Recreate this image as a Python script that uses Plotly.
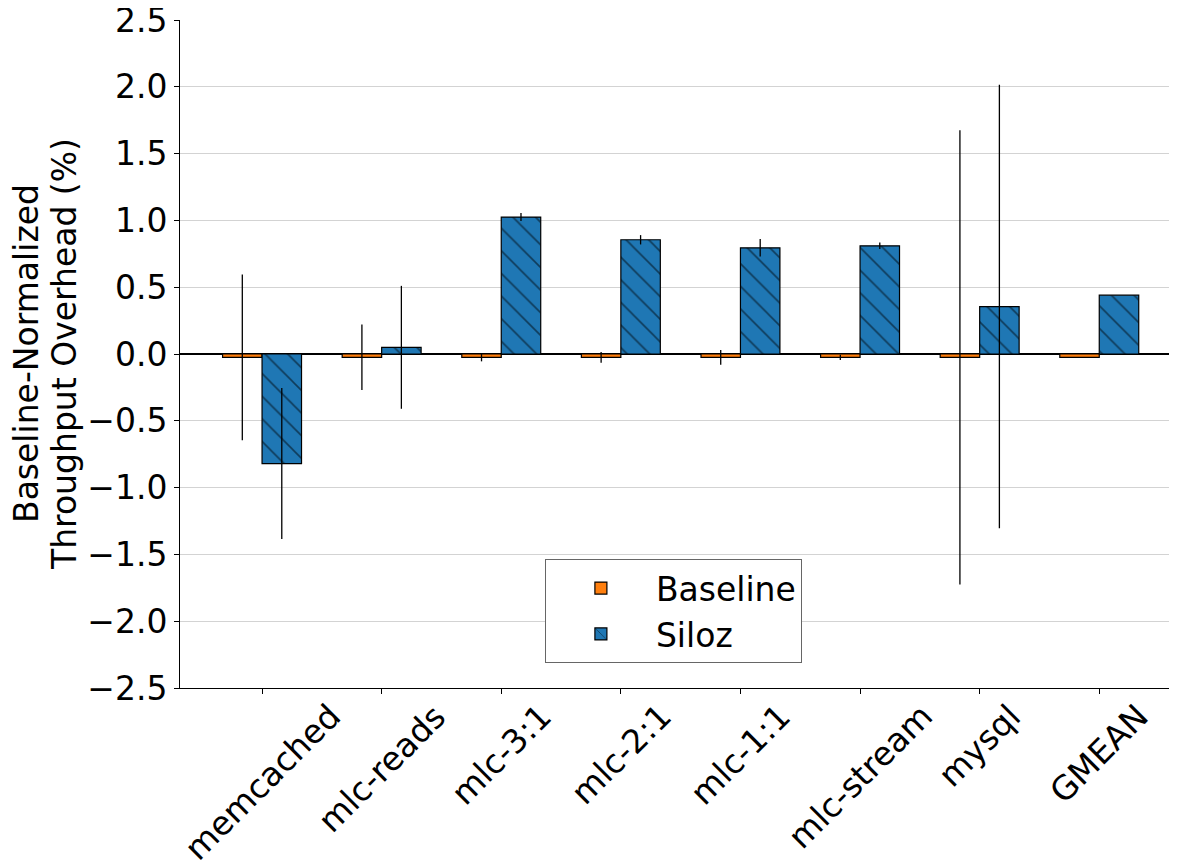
import plotly.graph_objects as go

categories = ["memcached", "mlc-reads", "mlc-3:1", "mlc-2:1", "mlc-1:1", "mlc-stream", "mysql", "GMEAN"]
baseline_vals = [-0.025, -0.025, -0.025, -0.025, -0.025, -0.025, -0.025, -0.025]
baseline_err = [0.62, 0.245, 0.03, 0.04, 0.055, 0.02, 1.70, 0.0]
siloz_vals = [-0.82, 0.05, 1.025, 0.855, 0.795, 0.81, 0.355, 0.44]
siloz_err = [0.565, 0.46, 0.03, 0.035, 0.065, 0.025, 1.66, 0.0]
y_ticks = [-2.5, -2.0, -1.5, -1.0, -0.5, 0.0, 0.5, 1.0, 1.5, 2.0, 2.5]
y_title_lines = ["Baseline-Normalized", "Throughput Overhead (%)"]

FONT = "DejaVu Sans"
FS = 33
xs = list(range(len(categories)))

fig = go.Figure()
fig.add_trace(go.Bar(
    x=xs, y=baseline_vals, name="Baseline",
    marker=dict(color="#ff7f0e", line=dict(color="black", width=1.2)),
    error_y=dict(type="data", array=baseline_err, visible=True, color="black", thickness=1.3, width=0),
))
fig.add_trace(go.Bar(
    x=xs, y=siloz_vals, name="Siloz",
    marker=dict(color="#1f77b4", line=dict(color="black", width=1.2),
                pattern=dict(shape="\\", fgcolor="black", bgcolor="#1f77b4", size=16, solidity=0.1)),
    error_y=dict(type="data", array=siloz_err, visible=True, color="black", thickness=1.3, width=0),
))

# x tick labels: rotated 45 deg, bounding box centred under each tick (matplotlib style)
for xi, label in zip(xs, categories):
    fig.add_annotation(
        x=xi, y=0, xref="x", yref="paper", text=label, showarrow=False,
        textangle=-45, xanchor="center", yanchor="top", yshift=-6,
        font=dict(size=FS, family=FONT, color="black"),
    )

# y-axis title (two lines)
for shift, line in zip([-154, -116], y_title_lines):
    fig.add_annotation(
        x=0, y=0.5, xref="paper", yref="paper", text=line, showarrow=False,
        textangle=-90, xanchor="center", yanchor="middle", xshift=shift,
        font=dict(size=FS, family=FONT, color="black"),
    )

fig.update_layout(
    width=1169, height=855,
    margin=dict(l=172, r=0, t=12, b=175),
    paper_bgcolor="white", plot_bgcolor="white",
    barmode="group", bargap=0.34, bargroupgap=0,
    font=dict(family=FONT, size=FS, color="black"),
    showlegend=True,
    legend=dict(x=0.366, y=0.193, xanchor="left", yanchor="top",
                bgcolor="white", bordercolor="#666", borderwidth=1,
                font=dict(size=FS, family=FONT), itemwidth=100,
                tracegroupgap=6),
)
fig.update_xaxes(
    range=[-0.686, 7.65], tickmode="array", tickvals=xs, showticklabels=False,
    ticks="outside", ticklen=5, tickcolor="black",
    showline=True, linecolor="black", linewidth=1, showgrid=False, zeroline=False,
    automargin=False,
)
fig.update_yaxes(
    range=[-2.5, 2.5], tickmode="array", tickvals=y_ticks,
    ticktext=[f"{v:.1f}".replace("-", "\u2212") for v in y_ticks],
    ticks="outside", ticklen=5, tickcolor="black", ticklabeloverflow="allow",
    showline=True, linecolor="black", linewidth=1,
    showgrid=True, gridcolor="#d3d3d3", gridwidth=1,
    zeroline=True, zerolinecolor="black", zerolinewidth=1.5,
    tickfont=dict(size=FS, family=FONT), automargin=False,
)

fig.write_html("out.html")
